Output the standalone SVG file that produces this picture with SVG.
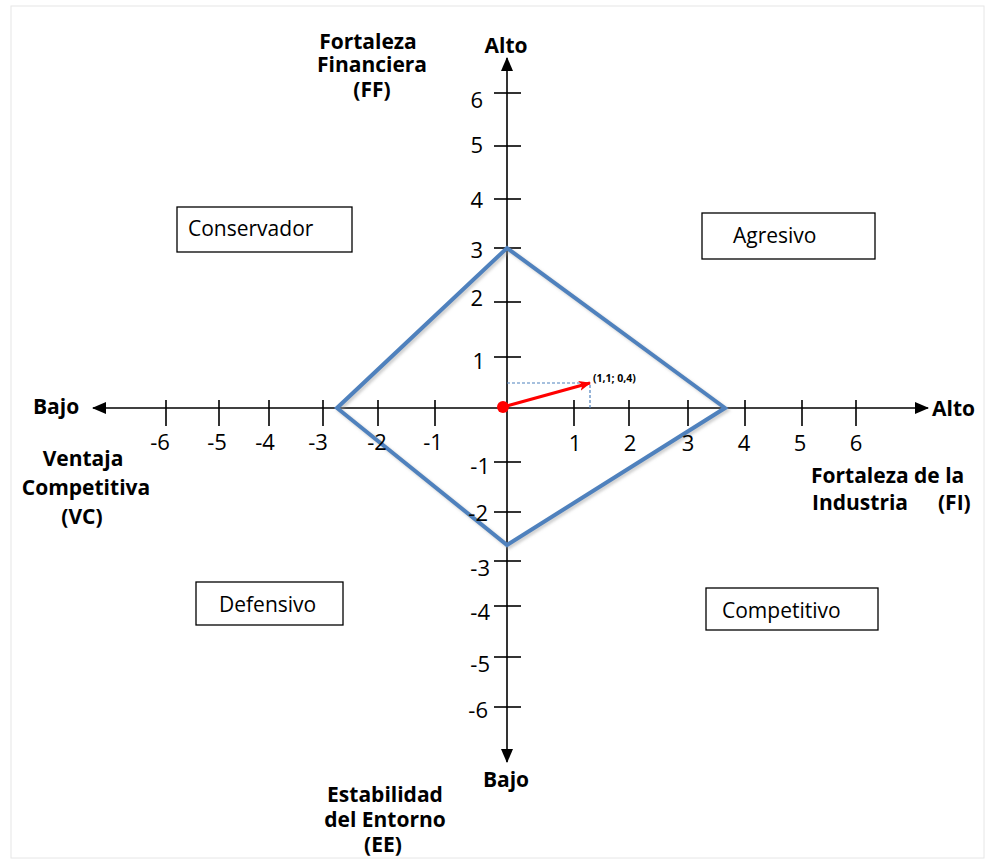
<svg xmlns="http://www.w3.org/2000/svg" width="985" height="859" viewBox="0 0 985 859">
<style>
.lbl{font-family:"Open Sans","Liberation Sans",sans-serif;font-weight:bold;font-size:21px;fill:#000}
.num{font-family:"Open Sans","Liberation Sans",sans-serif;font-size:22px;fill:#000}
.box{fill:#fff;stroke:#000;stroke-width:1.3}
.boxt{font-family:"Open Sans","Liberation Sans",sans-serif;font-size:21px;fill:#000}
.axis{stroke:#000;stroke-width:1.6;fill:none}
.tick{stroke:#000;stroke-width:1.6}
</style>
<defs>
<marker id="ah" viewBox="0 0 14 12" refX="13" refY="6" markerWidth="14" markerHeight="12" markerUnits="userSpaceOnUse" orient="auto">
<path d="M0,0 L14,6 L0,12 Z" fill="#000"/>
</marker>
<marker id="rh" viewBox="0 0 12 10" refX="11" refY="5" markerWidth="12" markerHeight="10" markerUnits="userSpaceOnUse" orient="auto">
<path d="M0,0 L12,5 L0,10 L3,5 Z" fill="#ff0000"/>
</marker>
<filter id="sh" x="-10%" y="-10%" width="120%" height="120%">
<feGaussianBlur stdDeviation="1.5"/>
</filter>
</defs>
<rect x="0" y="0" width="985" height="859" fill="#fff"/>
<rect x="11" y="6" width="973" height="852" fill="none" stroke="#e6e6e6" stroke-width="1"/>

<g id="connectors">
<line class="axis" x1="507" y1="408" x2="507" y2="58" marker-end="url(#ah)"/>
<line class="axis" x1="507" y1="408" x2="507" y2="762" marker-end="url(#ah)"/>
<line class="axis" x1="507" y1="408" x2="928" y2="408" marker-end="url(#ah)"/>
<line class="axis" x1="507" y1="408" x2="93" y2="408" marker-end="url(#ah)"/>
<g id="yticks">
<line class="tick" x1="494" y1="93" x2="521" y2="93"/>
<line class="tick" x1="494" y1="146" x2="521" y2="146"/>
<line class="tick" x1="494" y1="199" x2="521" y2="199"/>
<line class="tick" x1="494" y1="248" x2="521" y2="248"/>
<line class="tick" x1="494" y1="302" x2="521" y2="302"/>
<line class="tick" x1="494" y1="357" x2="521" y2="357"/>
<line class="tick" x1="494" y1="462" x2="521" y2="462"/>
<line class="tick" x1="494" y1="512" x2="521" y2="512"/>
<line class="tick" x1="494" y1="561" x2="521" y2="561"/>
<line class="tick" x1="494" y1="606" x2="521" y2="606"/>
<line class="tick" x1="494" y1="657" x2="521" y2="657"/>
<line class="tick" x1="494" y1="707" x2="521" y2="707"/>
</g>
<g id="xticks">
<line class="tick" x1="166" y1="400" x2="166" y2="426"/>
<line class="tick" x1="219" y1="400" x2="219" y2="426"/>
<line class="tick" x1="269" y1="400" x2="269" y2="426"/>
<line class="tick" x1="323" y1="400" x2="323" y2="426"/>
<line class="tick" x1="378" y1="400" x2="378" y2="426"/>
<line class="tick" x1="435" y1="400" x2="435" y2="426"/>
<line class="tick" x1="574" y1="400" x2="574" y2="426"/>
<line class="tick" x1="629" y1="400" x2="629" y2="426"/>
<line class="tick" x1="688" y1="400" x2="688" y2="426"/>
<line class="tick" x1="745" y1="400" x2="745" y2="426"/>
<line class="tick" x1="802" y1="400" x2="802" y2="426"/>
<line class="tick" x1="856" y1="400" x2="856" y2="426"/>
</g>
</g>

<g id="diamond">
<polygon points="507,248 725,408 507,545 337,408" fill="none" stroke="#9a9a9a" stroke-opacity="0.5" stroke-width="4" transform="translate(2,2)" filter="url(#sh)"/>
<polygon points="507,248 725,408 507,545 337,408" fill="none" stroke="#4F81BD" stroke-width="4" stroke-linejoin="miter"/>
</g>

<g id="vector">
<polyline points="507,383 590,383 590,410" fill="none" stroke="#4F81BD" stroke-width="1.2" stroke-dasharray="3,2"/>
<line x1="503" y1="407" x2="590" y2="383" stroke="#ff0000" stroke-width="3" marker-end="url(#rh)"/>
<circle cx="503" cy="407" r="6" fill="#ff0000"/>
<text x="593" y="382" font-family="'Open Sans','Liberation Sans',sans-serif" font-weight="bold" font-size="10.5" fill="#000">(1,1; 0,4)</text>
</g>

<g id="ylabels">
<text class="num" x="483" y="108" text-anchor="end">6</text>
<text class="num" x="483" y="153" text-anchor="end">5</text>
<text class="num" x="483" y="208" text-anchor="end">4</text>
<text class="num" x="483" y="258" text-anchor="end">3</text>
<text class="num" x="483" y="306" text-anchor="end">2</text>
<text class="num" x="485" y="369" text-anchor="end">1</text>
<text class="num" x="490" y="474" text-anchor="end">-1</text>
<text class="num" x="488" y="521" text-anchor="end">-2</text>
<text class="num" x="490" y="576" text-anchor="end">-3</text>
<text class="num" x="490" y="620" text-anchor="end">-4</text>
<text class="num" x="490" y="672" text-anchor="end">-5</text>
<text class="num" x="488" y="718" text-anchor="end">-6</text>
</g>
<g id="xlabels">
<text class="num" x="160" y="450" text-anchor="middle">-6</text>
<text class="num" x="217" y="450" text-anchor="middle">-5</text>
<text class="num" x="265" y="450" text-anchor="middle">-4</text>
<text class="num" x="318" y="450" text-anchor="middle">-3</text>
<text class="num" x="377" y="450" text-anchor="middle">-2</text>
<text class="num" x="433" y="450" text-anchor="middle">-1</text>
<text class="num" x="575" y="451" text-anchor="middle">1</text>
<text class="num" x="630" y="451" text-anchor="middle">2</text>
<text class="num" x="688" y="451" text-anchor="middle">3</text>
<text class="num" x="744" y="451" text-anchor="middle">4</text>
<text class="num" x="800" y="451" text-anchor="middle">5</text>
<text class="num" x="856" y="451" text-anchor="middle">6</text>
</g>

<g id="label-ff">
<text class="lbl" x="368" y="49" text-anchor="middle">Fortaleza</text>
<text class="lbl" x="372" y="72" text-anchor="middle">Financiera</text>
<text class="lbl" x="372" y="97" text-anchor="middle">(FF)</text>
</g>
<g id="label-alto-top"><text class="lbl" x="506" y="53" text-anchor="middle">Alto</text></g>
<g id="label-bajo-bottom"><text class="lbl" x="506" y="787" text-anchor="middle">Bajo</text></g>
<g id="label-ee">
<text class="lbl" x="385" y="802" text-anchor="middle">Estabilidad</text>
<text class="lbl" x="385" y="827" text-anchor="middle">del Entorno</text>
<text class="lbl" x="383" y="852" text-anchor="middle">(EE)</text>
</g>
<g id="label-bajo-left"><text class="lbl" x="33" y="414">Bajo</text></g>
<g id="label-vc">
<text class="lbl" x="83" y="466" text-anchor="middle">Ventaja</text>
<text class="lbl" x="86" y="495" text-anchor="middle">Competitiva</text>
<text class="lbl" x="82" y="524" text-anchor="middle">(VC)</text>
</g>
<g id="label-alto-right"><text class="lbl" x="932" y="416">Alto</text></g>
<g id="label-fi">
<text class="lbl" x="811" y="483">Fortaleza de la</text>
<text class="lbl" y="510"><tspan x="812">Industria</tspan><tspan x="938">(FI)</tspan></text>
</g>

<g id="conservador">
<rect class="box" x="177" y="207" width="175" height="45"/>
<text class="boxt" x="188" y="236">Conservador</text>
</g>
<g id="agresivo">
<rect class="box" x="702" y="213" width="173" height="46"/>
<text class="boxt" x="733" y="243">Agresivo</text>
</g>
<g id="defensivo">
<rect class="box" x="196" y="582" width="147" height="43"/>
<text class="boxt" x="219" y="612">Defensivo</text>
</g>
<g id="competitivo">
<rect class="box" x="706" y="588" width="172" height="42"/>
<text class="boxt" x="722" y="618">Competitivo</text>
</g>
</svg>
